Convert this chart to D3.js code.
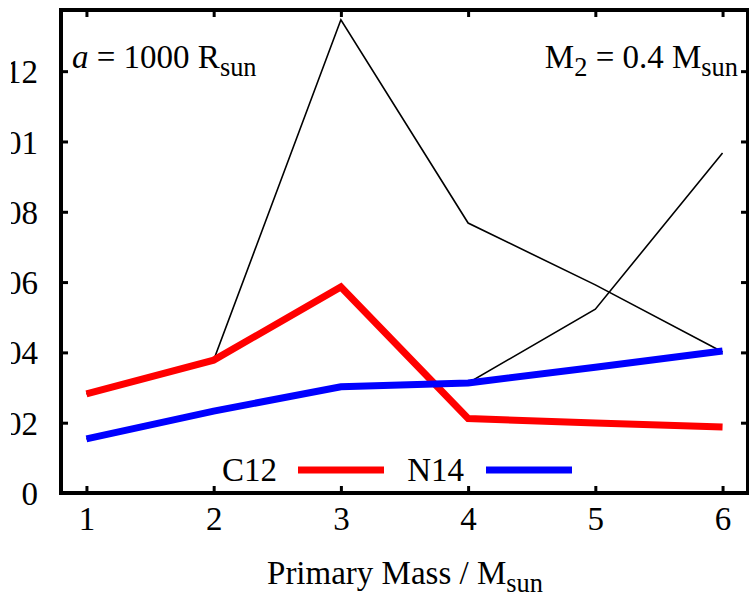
<!DOCTYPE html>
<html>
<head>
<meta charset="utf-8">
<script src="https://cdn.jsdelivr.net/npm/d3@7"></script>
<style>
  body { margin: 0; background: #fff; }
  text { font-family: "Liberation Serif", "Times New Roman", serif; fill: #000; }
</style>
</head>
<body>
<div id="chart"></div>
<script>
// primary masses (x) and abundances (y)
var masses = [1, 2, 3, 4, 5, 6];
var c12 = [0.000282, 0.000378, 0.000586, 0.000212, 0.000199, 0.000188];
var n14 = [0.000154, 0.000233, 0.000302, 0.000313, 0.000358, 0.000404];
// thin black comparison runs
var c12Alt = [0.000282, 0.000378, 0.001346, 0.000768, 0.000592, 0.000401];
var n14Alt = [0.000154, 0.000233, 0.000302, 0.000313, 0.000523, 0.000967];
var xTicks = [1, 2, 3, 4, 5, 6];
var yTicks = [0, 0.0002, 0.0004, 0.0006, 0.0008, 0.001, 0.0012];

(function () {
  var W = 749, H = 598;
  var m = {left: 61, right: 748, top: 10, bottom: 493};
  var fs = 33;

  var x = d3.scaleLinear().domain([0.8, 6.2]).range([m.left, m.right]);
  var y = d3.scaleLinear().domain([0, 0.001374]).range([m.bottom, m.top]);

  var svg = d3.select("#chart").append("svg")
      .attr("width", W)
      .attr("height", H);

  // the y labels are cut at the left edge in the original
  // (clip rect is in the label group's own coords, shifted by m.left)
  svg.append("defs").append("clipPath")
      .attr("id", "lblclip")
    .append("rect")
      .attr("x", 11 - m.left).attr("y", 0).attr("width", W).attr("height", H);

  function series(vals) {
    return masses.map(function(d, i) { return [d, vals[i]]; });
  }

  var line = d3.line()
      .x(function(d) { return x(d[0]); })
      .y(function(d) { return y(d[1]); });

  // thin black lines first
  [c12Alt, n14Alt].forEach(function(s) {
    svg.append("path")
        .datum(series(s))
        .attr("d", line)
        .attr("fill", "none")
        .attr("stroke", "#000")
        .attr("stroke-width", 1.6);
  });

  svg.append("path")
      .datum(series(c12))
      .attr("d", line)
      .attr("fill", "none")
      .attr("stroke", "#ff0000")
      .attr("stroke-width", 7);

  svg.append("path")
      .datum(series(n14))
      .attr("d", line)
      .attr("fill", "none")
      .attr("stroke", "#0000ff")
      .attr("stroke-width", 7);

  // axes on all four sides, ticks pointing in
  var bx = svg.append("g")
      .attr("transform", "translate(0," + m.bottom + ")")
      .call(d3.axisBottom(x).tickValues(xTicks).tickSizeInner(-7).tickSizeOuter(0).tickPadding(14).tickFormat(d3.format("d")));
  var tx = svg.append("g")
      .attr("transform", "translate(0," + m.top + ")")
      .call(d3.axisTop(x).tickValues(xTicks).tickSizeInner(-7).tickSizeOuter(0).tickFormat(""));
  var ly = svg.append("g")
      .attr("transform", "translate(" + m.left + ",0)")
      .call(d3.axisLeft(y).tickValues(yTicks).tickSizeInner(-7).tickSizeOuter(0)
        .tickFormat(function(d) { return d === 0 ? "0" : String(+d.toFixed(4)); }));
  var ry = svg.append("g")
      .attr("transform", "translate(" + m.right + ",0)")
      .call(d3.axisRight(y).tickValues(yTicks).tickSizeInner(-7).tickSizeOuter(0).tickFormat(""));

  [bx, tx, ly, ry].forEach(function(g) {
    g.select(".domain").remove();
    g.selectAll(".tick line").attr("stroke", "#000").attr("stroke-width", 3);
    g.selectAll(".tick text")
        .attr("font-size", fs)
        .attr("font-family", "Liberation Serif, serif")
        .attr("fill", "#000");
  });
  bx.selectAll(".tick text").attr("dy", "0.71em");
  ly.attr("clip-path", "url(#lblclip)");
  ly.selectAll(".tick text").attr("x", 38 - m.left).attr("dy", "0.35em");

  // frame
  svg.append("rect")
      .attr("x", m.left).attr("y", m.top)
      .attr("width", m.right - m.left).attr("height", m.bottom - m.top)
      .attr("fill", "none")
      .attr("stroke", "#000")
      .attr("stroke-width", 4);

  // annotations
  var a1 = svg.append("text").attr("x", 72).attr("y", 68).attr("font-size", fs);
  a1.append("tspan").attr("font-style", "italic").text("a");
  a1.append("tspan").text(" = 1000 R");
  a1.append("tspan").attr("font-size", fs * 0.8).attr("dy", 8).text("sun");

  var a2 = svg.append("text").attr("x", 738).attr("y", 68).attr("font-size", fs).attr("text-anchor", "end");
  a2.append("tspan").text("M");
  a2.append("tspan").attr("font-size", fs * 0.8).attr("dy", 8).text("2");
  a2.append("tspan").attr("dy", -8).text(" = 0.4 M");
  a2.append("tspan").attr("font-size", fs * 0.8).attr("dy", 8).text("sun");

  // x axis title
  var xt = svg.append("text").attr("x", 405).attr("y", 584).attr("font-size", fs).attr("text-anchor", "middle");
  xt.append("tspan").text("Primary Mass / M");
  xt.append("tspan").attr("font-size", fs * 0.8).attr("dy", 8).text("sun");

  // key
  var keys = [
    {name: "C12", color: "#ff0000", tx: 277, x1: 298, x2: 384},
    {name: "N14", color: "#0000ff", tx: 464, x1: 486, x2: 572}
  ];
  keys.forEach(function(k) {
    svg.append("text")
        .attr("x", k.tx).attr("y", 481)
        .attr("font-size", fs)
        .attr("text-anchor", "end")
        .text(k.name);
    svg.append("line")
        .attr("x1", k.x1).attr("x2", k.x2)
        .attr("y1", 470).attr("y2", 470)
        .attr("stroke", k.color)
        .attr("stroke-width", 7);
  });
})();
</script>
</body>
</html>
